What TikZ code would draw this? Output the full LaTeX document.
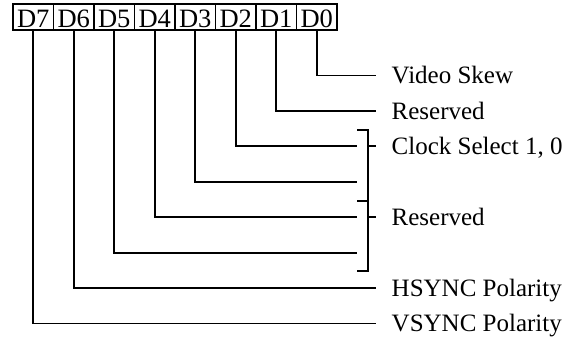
\documentclass[tikz,border=0pt]{standalone}
\usepackage{fontspec}
\setmainfont{Liberation Serif}
\begin{document}
\begin{tikzpicture}[x=1pt,y=-1pt,
  wire/.style={line width=1.8pt,line cap=rect},
  bitbox/.style={draw,line width=1.8pt,minimum width=40.5pt,minimum height=26pt,inner sep=0pt,outer sep=0pt,text height=23pt,text depth=2pt,font=\fontsize{26.5}{31}\selectfont},
  lbl/.style={anchor=base west,inner sep=0pt,font=\fontsize{25}{30}\selectfont}]
\useasboundingbox (0,0) rectangle (578,337);
\foreach \i/\b in {0/7,1/6,2/5,3/4,4/3,5/2,6/1,7/0}{
  \node[bitbox] (b\b) at ({33.25+40.5*\i},17) {D\b};
}
% end coordinates
\foreach \b/\x in {0/375,1/375,2/356,3/356,4/356,5/356,6/375,7/375}{
  \coordinate (e\b) at (\x,{75.5+35.43*\b});
}
\foreach \b in {0,...,7}{
  \draw[wire] (b\b.south) |- (e\b);
}
% bracket
\coordinate (bt) at (358,130);
\coordinate (bm) at (358,200.7);
\coordinate (bb) at (358,271);
\coordinate (r1) at (375,{75.5+35.43*2});
\coordinate (r2) at (375,{75.5+35.43*4});
\draw[wire] (bt) -- (368,130) -- (368,271) -- (bb);
\draw[wire] (bm) -- (368,200.7);
\draw[wire] (368,{75.5+35.43*2}) -- (r1);
\draw[wire] (368,{75.5+35.43*4}) -- (r2);
% labels
\node[lbl] (t0) at (391.5,{75.5+35.43*0+8.3}) {Video Skew};
\node[lbl] (t1) at (391.5,{75.5+35.43*1+8.3}) {Reserved};
\node[lbl] (t2) at (391.5,{75.5+35.43*2+8.3}) {Clock Select 1, 0};
\node[lbl] (t4) at (391.5,{75.5+35.43*4+8.3}) {Reserved};
\node[lbl] (t6) at (391.5,{75.5+35.43*6+8.3}) {HSYNC Polarity};
\node[lbl] (t7) at (391.5,{75.5+35.43*7+8.3}) {VSYNC Polarity};
\end{tikzpicture}
\end{document}
